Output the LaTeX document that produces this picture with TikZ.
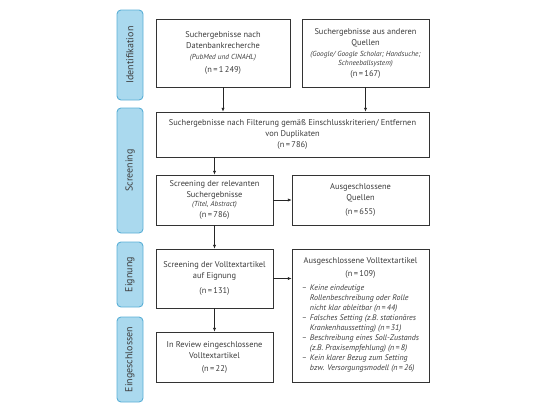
\documentclass[tikz,border=0pt]{standalone}
\usepackage{fontspec}
\setmainfont{PT Sans}
\usetikzlibrary{arrows.meta}
\definecolor{barblue}{HTML}{AAD9EE}
\definecolor{barline}{HTML}{5AAFD6}
\definecolor{txtgray}{HTML}{3C3C3C}
\tikzset{
  phase/.style={draw=barline,fill=barblue,line width=0.9pt,rounded corners=4pt,
    rotate=90,minimum height=26pt,inner sep=0pt,
    font=\fontsize{10}{11}\selectfont,text=txtgray},
  flowbox/.style={draw=black!80,line width=0.7pt,align=center,inner sep=2pt,
    font=\fontsize{8.4}{11}\selectfont,text=txtgray},
  flow/.style={-{Latex[length=3.8pt,width=3.2pt]},line width=0.6pt,draw=black!85}
}
\newcommand{\detail}[1]{{\fontsize{7.3}{9}\selectfont\itshape #1}}

\begin{document}
\begin{tikzpicture}[x=1pt,y=-1pt]
\useasboundingbox (0,0) rectangle (545,413);

% phases
\node[phase,minimum width=90pt] (idf) at (130,55) {Identifikation};
\node[phase,minimum width=125pt] (scr) at (130,170.5) {Screening};
\node[phase,minimum width=65pt] (eig) at (130,274.5) {Eignung};
\node[phase,minimum width=85pt] (ein) at (130,359.5) {Eingeschlossen};

% identification
\node[flowbox,minimum width=134pt,minimum height=68pt] (db) at (223,53)
  {Suchergebnisse nach\\Datenbankrecherche\\\detail{(PubMed und CINAHL)}\\[2pt](n\,=\,1\,249)};
\node[flowbox,minimum width=127pt,minimum height=68pt] (src) at (365.5,53)
  {Suchergebnisse aus anderen\\Quellen\\\detail{(Google/ Google Scholar; Handsuche;}\\[-2pt]\detail{Schneeballsystem)}\\(n\,=\,167)};

% screening
\node[flowbox,minimum width=273pt,minimum height=45pt] (filt) at (292.5,134.5)
  {Suchergebnisse nach Filterung gemäß Einschlusskriterien/ Entfernen\\von Duplikaten\\(n\,=\,786)};
\node[flowbox,minimum width=117pt,minimum height=50pt] (rel) at (214.5,200)
  {Screening der relevanten\\Suchergebnisse\\[-2pt]\detail{(Titel, Abstract)}\\(n\,=\,786)};
\node[flowbox,minimum width=137pt,minimum height=50pt] (quell) at (360.5,200)
  {Ausgeschlossene\\Quellen\\[3pt](n\,=\,655)};

% eligibility
\node[flowbox,minimum width=117pt,minimum height=59pt] (voll) at (214.5,278.5)
  {Screening der Volltextartikel\\auf Eignung\\[4pt](n\,=\,131)};
\node[flowbox,minimum width=137pt,minimum height=133pt] (excl) at (360.5,315.5)
  {Ausgeschlossene Volltextartikel\\[2pt](n\,=\,109)\\[5pt]
   {\fontsize{8}{10}\selectfont\itshape
   \begin{tabular}{@{}p{8pt}@{}l@{}}
   -- & Keine eindeutige\\
      & Rollenbeschreibung oder Rolle\\
      & nicht klar ableitbar (n\,=\,44)\\
   -- & Falsches Setting (z.B. stationäres\\
      & Krankenhaussetting) (n\,=\,31)\\
   -- & Beschreibung eines Soll-Zustands\\
      & (z.B. Praxisempfehlung) (n\,=\,8)\\
   -- & Kein klarer Bezug zum Setting\\
      & bzw. Versorgungsmodell (n\,=\,26)
   \end{tabular}}};

% included
\node[flowbox,minimum width=117pt,minimum height=50pt] (rev) at (214.5,357)
  {In Review eingeschlossene\\Volltextartikel\\[2pt](n\,=\,22)};

% connectors
\draw[flow] (db) -- (db |- filt.north);
\draw[flow] (src) -- (src |- filt.north);
\draw[flow] (rel |- filt.south) -- (rel);
\draw[flow] (rel) -- (quell);
\draw[flow] (rel) -- (voll);
\draw[flow] (voll) -- (voll -| excl.west);
\draw[flow] (voll) -- (rev);
\end{tikzpicture}
\end{document}
